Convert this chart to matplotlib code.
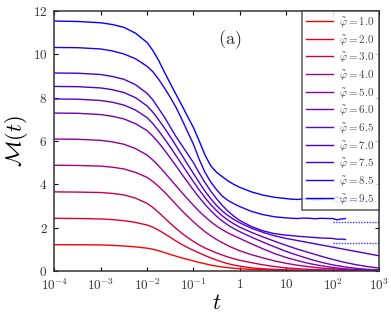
import numpy as np
import matplotlib
matplotlib.use("Agg")
import matplotlib.pyplot as plt
from matplotlib.colors import LinearSegmentedColormap

plt.rcParams['mathtext.fontset'] = 'cm'
plt.rcParams['font.family'] = ['DejaVu Serif']

# log10(t) grids (full range and the shorter runs that stop near t=190)
head = [-4, -3.5, -3, -2.75, -2.5, -2.25, -2, -1.875, -1.75, -1.625, -1.5, -1.375,
        -1.25, -1.125, -1, -0.875, -0.75, -0.625, -0.5, -0.375, -0.25, -0.125, 0,
        0.25, 0.5, 0.75, 1]
log_t = head + [1.25, 1.5, 1.75, 2, 2.25, 2.5, 2.75, 3]
log_t_short = head + [1.125, 1.25, 1.375, 1.5, 1.625, 1.75, 1.875, 2, 2.1, 2.2, 2.28]

phi = [1.0, 2.0, 3.0, 4.0, 5.0, 6.0, 6.5, 7.0, 7.5, 8.5, 9.5]

m_1_0 = [1.21, 1.21, 1.20, 1.18, 1.15, 1.11, 1.05, 1.00, 0.93, 0.85, 0.76, 0.68,
         0.60, 0.53, 0.46, 0.39, 0.33, 0.27, 0.22, 0.18, 0.15, 0.12, 0.10,
         0.07, 0.05, 0.035, 0.025,
         0.015, 0.01, 0.008, 0.005, 0.003, 0.002, 0.001, 0.001]
m_2_0 = [2.43, 2.42, 2.40, 2.37, 2.32, 2.24, 2.12, 2.02, 1.88, 1.72, 1.55, 1.38,
         1.22, 1.08, 0.95, 0.83, 0.71, 0.60, 0.50, 0.41, 0.33, 0.27, 0.22,
         0.14, 0.10, 0.07, 0.05,
         0.035, 0.025, 0.018, 0.012, 0.008, 0.005, 0.003, 0.002]
m_3_0 = [3.65, 3.64, 3.62, 3.58, 3.51, 3.36, 3.12, 2.93, 2.70, 2.45, 2.20, 1.96,
         1.74, 1.54, 1.36, 1.20, 1.06, 0.94, 0.83, 0.73, 0.64, 0.56, 0.49,
         0.38, 0.28, 0.20, 0.14,
         0.10, 0.07, 0.05, 0.035, 0.025, 0.016, 0.01, 0.007]
m_4_0 = [4.88, 4.87, 4.84, 4.79, 4.71, 4.55, 4.32, 4.13, 3.90, 3.64, 3.36, 3.07,
         2.78, 2.52, 2.27, 2.03, 1.81, 1.62, 1.45, 1.30, 1.16, 1.04, 0.93,
         0.75, 0.60, 0.46, 0.35,
         0.26, 0.19, 0.13, 0.09, 0.06, 0.04, 0.025, 0.015]
m_5_0 = [6.09, 6.08, 6.03, 5.96, 5.85, 5.65, 5.35, 5.12, 4.85, 4.55, 4.24, 3.93,
         3.62, 3.32, 3.03, 2.75, 2.50, 2.27, 2.07, 1.90, 1.75, 1.62, 1.50,
         1.25, 1.02, 0.80, 0.62,
         0.47, 0.34, 0.24, 0.16, 0.10, 0.06, 0.04, 0.025]
m_6_0 = [7.29, 7.28, 7.22, 7.14, 7.02, 6.80, 6.48, 6.22, 5.92, 5.58, 5.22, 4.85,
         4.47, 4.10, 3.74, 3.39, 3.07, 2.78, 2.52, 2.30, 2.11, 1.95, 1.81,
         1.56, 1.33, 1.11, 0.90,
         0.72, 0.55, 0.40, 0.28, 0.19, 0.12, 0.07, 0.04]
m_6_5 = [7.94, 7.93, 7.87, 7.79, 7.66, 7.43, 7.08, 6.80, 6.47, 6.10, 5.72, 5.32,
         4.92, 4.52, 4.12, 3.74, 3.38, 3.06, 2.78, 2.54, 2.34, 2.17, 2.02,
         1.78, 1.57, 1.37, 1.18,
         1.00, 0.84, 0.68, 0.53, 0.40, 0.29, 0.20, 0.13]
m_7_0 = [8.52, 8.51, 8.45, 8.37, 8.24, 8.00, 7.62, 7.33, 6.98, 6.60, 6.20, 5.78,
         5.35, 4.92, 4.50, 4.08, 3.68, 3.33, 3.02, 2.76, 2.55, 2.37, 2.22,
         1.97, 1.78, 1.62, 1.50,
         1.40, 1.30, 1.20, 1.10, 1.00, 0.90, 0.80, 0.70]
m_7_5 = [9.14, 9.13, 9.07, 8.98, 8.85, 8.60, 8.20, 7.90, 7.50, 7.10, 6.65, 6.20,
         5.80, 5.40, 5.00, 4.52, 4.08, 3.68, 3.33, 3.02, 2.75, 2.52, 2.33,
         2.05, 1.85, 1.72, 1.65,
         1.63, 1.60, 1.58, 1.56, 1.54, 1.52, 1.51, 1.50, 1.46, 1.47, 1.45]
m_8_5 = [10.32, 10.31, 10.25, 10.16, 10.02, 9.80, 9.45, 9.20, 8.85, 8.45, 8.02, 7.55,
         7.00, 6.42, 5.85, 5.15, 4.55, 4.10, 3.75, 3.45, 3.25, 3.10, 2.97,
         2.75, 2.60, 2.50, 2.45,
         2.43, 2.42, 2.44, 2.43, 2.41, 2.43, 2.42, 2.42, 2.36, 2.40, 2.42]
m_9_5 = [11.54, 11.52, 11.46, 11.38, 11.25, 10.98, 10.55, 10.18, 9.72, 9.18, 8.66, 8.15,
         7.65, 7.13, 6.62, 6.00, 5.35, 4.85, 4.55, 4.35, 4.15, 3.99, 3.86,
         3.65, 3.50, 3.40, 3.34,
         3.31, 3.30, 3.33, 3.31, 3.29, 3.30, 3.33, 3.32, 3.42, 3.33, 3.36]

series = [m_1_0, m_2_0, m_3_0, m_4_0, m_5_0, m_6_0, m_6_5, m_7_0, m_7_5, m_8_5, m_9_5]

# long-time plateau levels (dotted)
plateau = [3.23, 2.28, 1.28]
plateau_t = [100, 1000]

x_ticks = [1e-4, 1e-3, 1e-2, 1e-1, 1, 10, 100, 1000]
x_labels = ['$10^{-4}$', '$10^{-3}$', '$10^{-2}$', '$10^{-1}$', '$1$', '$10$',
            '$10^{2}$', '$10^{3}$']
y_ticks = [0, 2, 4, 6, 8, 10, 12]

cmap = LinearSegmentedColormap.from_list('rb', ['#ff0000', '#8800aa', '#0000ff'])

fig = plt.figure(figsize=(3.91, 3.26), dpi=100)
ax = fig.add_axes([0.139, 0.169, 0.830, 0.797])

for p, m in zip(phi, series):
    x = log_t if len(m) == len(log_t) else log_t_short
    c = cmap((p - 1.0) / 8.5)
    ax.plot(np.power(10.0, x), m, color=c, lw=1.0,
            label=r'$\tilde{\varphi} = %.1f$' % p)

for lvl in plateau:
    ax.plot(plateau_t, [lvl, lvl], color='#3333ff', lw=1.0, ls=(0, (1, 1)))

ax.set_xscale('log')
ax.set_xlim(1e-4, 1e3)
ax.set_ylim(0, 12)
ax.set_xticks(x_ticks)
ax.set_xticklabels(x_labels)
ax.xaxis.set_minor_locator(matplotlib.ticker.NullLocator())
ax.set_yticks(y_ticks)
ax.set_yticklabels(['$%d$' % v for v in y_ticks])
ax.tick_params(direction='in', top=True, right=True, labelsize=9.5, length=3,
               width=0.8, labelcolor='#333333', pad=5)
for s in ax.spines.values():
    s.set_linewidth(1.1)
    s.set_color('#333333')

ax.set_xlabel('$t$', fontsize=16, labelpad=-1)
ax.set_ylabel(r'$\mathcal{M}(t)$', fontsize=16, labelpad=2)
ax.text(0.504, 0.892, r'$(\mathrm{a})$', transform=ax.transAxes, fontsize=13,
        va='center', color='#333333')

leg = ax.legend(loc='upper right', fontsize=8, frameon=True, fancybox=False,
                borderaxespad=0, handlelength=2.4, labelspacing=0.33,
                handletextpad=0.6, borderpad=0.35)
leg.get_frame().set_edgecolor('#333333')
leg.get_frame().set_linewidth(1.1)
for t in leg.get_texts():
    t.set_color('#444444')

fig.savefig('out.png', dpi=100)
